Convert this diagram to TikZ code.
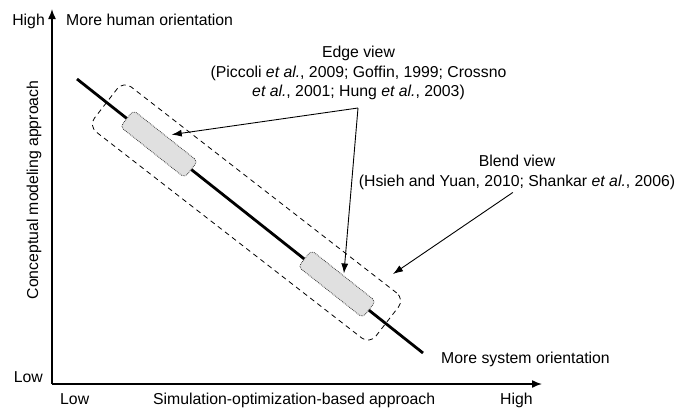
\documentclass[tikz,border=0pt]{standalone}
\usepackage{fontspec}
\setmainfont{Liberation Sans}
\usetikzlibrary{arrows.meta,calc}
\begin{document}
\begin{tikzpicture}[x=1pt,y=-1pt,
  every node/.style={font=\fontsize{15.8}{19.5}\selectfont, inner sep=0pt},
  axis/.style={line width=1.5pt, -{Latex[length=10pt,width=8pt]}},
  pointer/.style={line width=0.9pt, -{Latex[length=10pt,width=7pt]}},
  viewbox/.style={draw=black!75, densely dotted, line width=0.8pt, fill=black!12,
    rounded corners=4pt, minimum width=82pt, minimum height=21pt, rotate=-38.4},
  blendbox/.style={draw, dash pattern=on 5pt off 4pt, line width=0.8pt,
    rounded corners=10pt, minimum width=356pt, minimum height=57pt, rotate=-37.8},
  lbl/.style={anchor=base west},
  lblr/.style={anchor=base east},
]
\useasboundingbox (0,0) rectangle (680,410);

% axes
\coordinate (O) at (52,384);
\coordinate (ytop) at (52,9);
\coordinate (xend) at (542,384);
\draw[axis] (O) -- (ytop);
\draw[axis] (O) -- (xend);

% axis labels
\node[lblr] (yhigh) at (45,25) {High};
\node[lbl] (human) at (66,25) {More human orientation};
\node[lblr] (ylow) at (43,382) {Low};
\node[lbl] (xlow) at (60,404) {Low};
\node[lbl] (xname) at (153,404) {Simulation-optimization-based approach};
\node[lbl] (xhigh) at (500,404) {High};
\node[rotate=90] (yname) at (34,190) {Conceptual modeling approach};
\node[lbl] (system) at (441,363) {More system orientation};

% orientation line
\coordinate (lineA) at (77,79);
\coordinate (lineB) at (423,353);
\draw[line width=2.8pt] (lineA) -- (lineB);

% blend region and edge regions
\node[blendbox] (blend) at (246.5,212.5) {};
\node[viewbox] (edge1) at (159,144) {};
\node[viewbox] (edge2) at (337,284) {};

% annotations
\node[align=center, anchor=north] (edgetxt) at (358.5,46)
  {Edge view\\(Piccoli \textit{et al.}, 2009; Goffin, 1999; Crossno\\\textit{et al.}, 2001; Hung \textit{et al.}, 2003)};
\node[align=center, anchor=north] (blendtxt) at (517,155)
  {Blend view\\(Hsieh and Yuan, 2010; Shankar \textit{et al.}, 2006)};

\coordinate (apex) at (358,108);
\draw[pointer, shorten >=6pt] (apex) -- (edge1.north);
\draw[pointer, shorten >=2pt] (apex) -- (edge2.north);
\coordinate (blendtip) at (393,274);
\draw[pointer, shorten <=5pt] (blendtxt.south) -- (blendtip);
\end{tikzpicture}
\end{document}
